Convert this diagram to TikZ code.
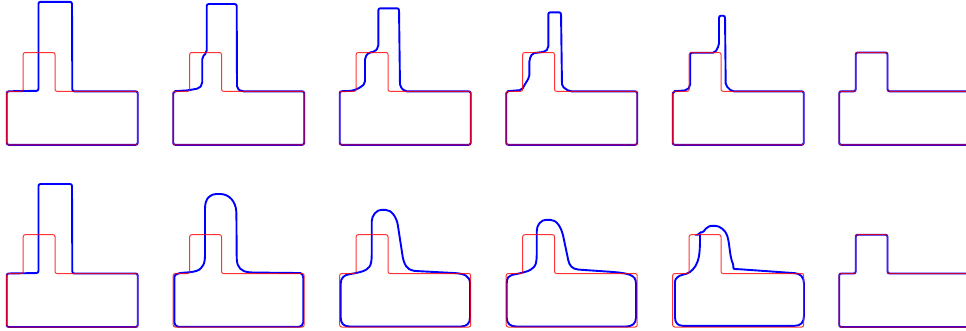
\documentclass[tikz,border=0pt]{standalone}
\tikzset{
  redline/.style={draw=red, line width=1pt, rounded corners=2pt, opacity=0.8},
  blueline/.style={draw=blue, line width=1.9pt, rounded corners=2pt},
}
\newcommand\RedT[1]{\draw[#1] (0,53.5) -- (0,0) -- (16.5,0) -- (16.5,-38.8) -- (48.3,-38.8) -- (48.3,0) -- (131,0) -- (131,53.5) -- cycle;}
\newcommand\BlueTall{\draw[blueline] (0,53.5) -- (0,0) -- (31.8,-0.5) -- (31.8,-89.5) -- (65.3,-89.5) -- (65.6,0) -- (131,0) -- (131,53.5) -- cycle;}
\begin{document}
\begin{tikzpicture}[x=1pt,y=-1pt]
\useasboundingbox (0,0) rectangle (966,330);
\clip (0,0) rectangle (966,330);
% ---------------- row 1 ----------------
\begin{scope}[shift={(6.7,91.3)}]
  \BlueTall
  \RedT{redline}
\end{scope}
\begin{scope}[shift={(173.2,91.3)}]
  \draw[blueline] (0,53.5) -- (0,0) -- (15,-1) -- (26,-3) -- (29,-7) -- (29,-34) -- (33.5,-39) -- (33.5,-87.3) -- (63.5,-87.3) -- (63.8,-3) -- (68,0) -- (131,0) -- (131,53.5) -- cycle;
  \RedT{redline}
\end{scope}
\begin{scope}[shift={(339.7,91.3)}]
  \draw[blueline] (0,53.5) -- (0,0) -- (13,-0.5) -- (21,-4) -- (25.3,-8) -- (25.3,-34) -- (29,-38.8) -- (35,-39.5) -- (38.6,-44) -- (38.6,-83) -- (59.3,-83) -- (60.3,-5) -- (65,0) -- (131,0) -- (131,53.5) -- cycle;
  \RedT{redline}
\end{scope}
\begin{scope}[shift={(506.2,91.3)}]
  \draw[blueline] (0,53.5) -- (0,0) -- (15.5,-1.3) -- (20.5,-10) -- (23.1,-14) -- (23.1,-31.3) -- (26,-38) -- (39,-39.6) -- (42.1,-43) -- (42.1,-79) -- (54.8,-79) -- (55.8,-5) -- (63,0) -- (131,0) -- (131,53.5) -- cycle;
  \RedT{redline}
\end{scope}
\begin{scope}[shift={(672.7,91.3)}]
  \draw[blueline] (0,53.5) -- (0,0) -- (14,-1) -- (17.5,-5) -- (17.5,-38.6) -- (42.3,-38.6) -- (46.3,-46) -- (46.3,-75.6) -- (52.3,-75.6) -- (53,-6) -- (59,0) -- (131,0) -- (131,53.5) -- cycle;
  \RedT{redline}
\end{scope}
\begin{scope}[shift={(839.2,91.3)}]
  \RedT{blueline}
  \RedT{redline}
\end{scope}
% ---------------- row 2 ----------------
\begin{scope}[shift={(6.7,273.5)}]
  \BlueTall
  \RedT{redline}
\end{scope}
\begin{scope}[shift={(173.2,273.5)}]
  \draw[blueline] (1.1,45) -- (1.1,6) .. controls (1.1,1) and (4,-0.5) .. (13.5,-1) .. controls (22,-1.8) and (26,-3) .. (29,-7) .. controls (31,-10) and (31.8,-14) .. (31.8,-20) -- (31.8,-63) .. controls (31.8,-76) and (38,-79.5) .. (45,-79.5) .. controls (56,-79.5) and (62.5,-72) .. (63.2,-60) -- (63.5,-16) .. controls (64,-6) and (68,-2) .. (78,-1) -- (125,-0.5) .. controls (129,-0.5) and (130,2) .. (130,6) -- (130,47) .. controls (130,51) and (128,53.2) .. (124,53.2) -- (7,53.2) .. controls (3,53.2) and (1.1,51) .. (1.1,47) -- cycle;
  \RedT{redline}
\end{scope}
\begin{scope}[shift={(339.7,273.5)}]
  \draw[blueline] (1,40) -- (1,12) .. controls (1,4) and (5,1.5) .. (11,0.5) .. controls (18,-0.8) and (24,-2) .. (28,-5) .. controls (31,-8) and (32,-12) .. (32,-20) -- (32,-50) .. controls (32,-58) and (37,-63.7) .. (43.6,-63.7) .. controls (52,-63.7) and (57,-56) .. (58.5,-46) -- (62.5,-20) .. controls (64,-10) and (67,-3.5) .. (76,-2.5) -- (112,-0.6) .. controls (124,0) and (130.3,2) .. (130.3,12) -- (130.3,42) .. controls (130.3,50) and (127,53) .. (119,53) -- (12,53) .. controls (4,53) and (1,50) .. (1,42) -- cycle;
  \RedT{redline}
\end{scope}
\begin{scope}[shift={(506.2,273.5)}]
  \draw[blueline] (0.5,40) -- (0.5,12) .. controls (0.5,4) and (3,1.8) .. (8,1) .. controls (15,-0.5) and (22,-2) .. (26,-5) .. controls (29.5,-8) and (30.5,-12) .. (30.5,-20) -- (30.5,-40) .. controls (30.5,-49) and (35,-53.7) .. (42.1,-53.7) .. controls (50,-53.7) and (55,-47) .. (57.5,-35) -- (61.5,-16) .. controls (63,-8) and (66,-4.5) .. (74,-3.8) -- (100,-2) .. controls (122,-0.5) and (129.8,1) .. (129.8,12) -- (129.8,42) .. controls (129.8,50) and (126,53) .. (118,53) -- (12,53) .. controls (4,53) and (0.5,50) .. (0.5,42) -- cycle;
  \RedT{redline}
\end{scope}
\begin{scope}[shift={(672.7,273.5)}]
  \draw[blueline] (2.3,40) -- (2.3,10) .. controls (2.3,5) and (6,2) .. (12,0.8) .. controls (18,-1) and (23,-6) .. (25.5,-14) .. controls (27,-20) and (27.3,-28) .. (27.3,-36) .. controls (27.3,-39) and (26,-39.5) .. (26.8,-40) .. controls (28,-41) and (30,-41) .. (32,-43.5) .. controls (35,-47) and (38,-47.7) .. (40.6,-47.7) .. controls (47,-47.7) and (53,-43) .. (55,-36) .. controls (56.5,-30) and (57,-22) .. (58.5,-15) .. controls (59.5,-11) and (60.3,-11) .. (60.6,-7) .. controls (60.8,-5) and (61.5,-4.4) .. (65,-4.4) -- (120,-0.5) .. controls (127,0) and (131.3,3) .. (131.3,12) -- (131.3,40) .. controls (131.3,49) and (128,52.3) .. (120,52.3) -- (12,52.3) .. controls (5,52.3) and (2.3,49) .. (2.3,42) -- cycle;
  \RedT{redline}
\end{scope}
\begin{scope}[shift={(839.2,273.5)}]
  \RedT{blueline}
  \RedT{redline}
\end{scope}
\end{tikzpicture}
\end{document}
